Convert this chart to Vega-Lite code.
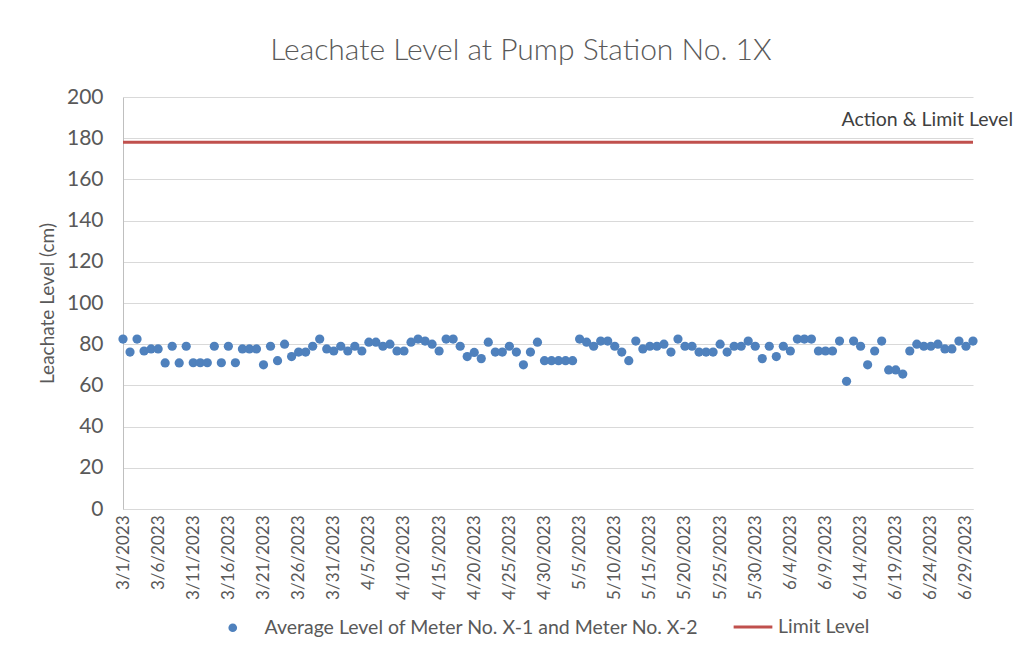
{
  "$schema": "https://vega.github.io/schema/vega-lite/v6.json",
  "autosize": {"type": "none"},
  "padding": {"left": 123, "top": 97, "right": 61, "bottom": 151},
  "width": 850,
  "height": 412,
  "background": "white",
  "config": {
    "font": "Lato",
    "view": {"stroke": null},
    "axis": {"labelColor": "#595959", "titleColor": "#595959", "labelFont": "Lato", "titleFont": "Lato", "titleFontWeight": "normal"}
  },
  "title": {"text": "Leachate Level at Pump Station No. 1X", "fontSize": 30, "font": "Lato", "fontWeight": 300, "color": "#595959", "anchor": "middle", "frame": "group", "offset": 20, "dx": -27},
  "datasets": {
    "levels": [
      {"date": "3/1/2023", "level": 82.5}, {"date": "3/2/2023", "level": 76.2}, {"date": "3/3/2023", "level": 82.5}, {"date": "3/4/2023", "level": 76.7},
      {"date": "3/5/2023", "level": 77.7}, {"date": "3/6/2023", "level": 77.7}, {"date": "3/7/2023", "level": 70.9}, {"date": "3/8/2023", "level": 79},
      {"date": "3/9/2023", "level": 70.9}, {"date": "3/10/2023", "level": 79}, {"date": "3/11/2023", "level": 71}, {"date": "3/12/2023", "level": 71},
      {"date": "3/13/2023", "level": 71}, {"date": "3/14/2023", "level": 79}, {"date": "3/15/2023", "level": 71}, {"date": "3/16/2023", "level": 79},
      {"date": "3/17/2023", "level": 71}, {"date": "3/18/2023", "level": 77.7}, {"date": "3/19/2023", "level": 77.7}, {"date": "3/20/2023", "level": 77.7},
      {"date": "3/21/2023", "level": 70}, {"date": "3/22/2023", "level": 79}, {"date": "3/23/2023", "level": 72}, {"date": "3/24/2023", "level": 80},
      {"date": "3/25/2023", "level": 74}, {"date": "3/26/2023", "level": 76.2}, {"date": "3/27/2023", "level": 76.2}, {"date": "3/28/2023", "level": 79},
      {"date": "3/29/2023", "level": 82.5}, {"date": "3/30/2023", "level": 77.7}, {"date": "3/31/2023", "level": 76.7},
      {"date": "4/1/2023", "level": 79}, {"date": "4/2/2023", "level": 76.7}, {"date": "4/3/2023", "level": 79}, {"date": "4/4/2023", "level": 76.7},
      {"date": "4/5/2023", "level": 81}, {"date": "4/6/2023", "level": 81}, {"date": "4/7/2023", "level": 79}, {"date": "4/8/2023", "level": 80},
      {"date": "4/9/2023", "level": 76.7}, {"date": "4/10/2023", "level": 76.7}, {"date": "4/11/2023", "level": 81}, {"date": "4/12/2023", "level": 82.5},
      {"date": "4/13/2023", "level": 81.5}, {"date": "4/14/2023", "level": 80}, {"date": "4/15/2023", "level": 76.7}, {"date": "4/16/2023", "level": 82.5},
      {"date": "4/17/2023", "level": 82.5}, {"date": "4/18/2023", "level": 79}, {"date": "4/19/2023", "level": 74}, {"date": "4/20/2023", "level": 76},
      {"date": "4/21/2023", "level": 73}, {"date": "4/22/2023", "level": 81}, {"date": "4/23/2023", "level": 76.2}, {"date": "4/24/2023", "level": 76.2},
      {"date": "4/25/2023", "level": 79}, {"date": "4/26/2023", "level": 76.2}, {"date": "4/27/2023", "level": 70}, {"date": "4/28/2023", "level": 76.2},
      {"date": "4/29/2023", "level": 81}, {"date": "4/30/2023", "level": 72},
      {"date": "5/1/2023", "level": 72}, {"date": "5/2/2023", "level": 72}, {"date": "5/3/2023", "level": 72}, {"date": "5/4/2023", "level": 72},
      {"date": "5/5/2023", "level": 82.5}, {"date": "5/6/2023", "level": 81}, {"date": "5/7/2023", "level": 79}, {"date": "5/8/2023", "level": 81.5},
      {"date": "5/9/2023", "level": 81.5}, {"date": "5/10/2023", "level": 79}, {"date": "5/11/2023", "level": 76.2}, {"date": "5/12/2023", "level": 72},
      {"date": "5/13/2023", "level": 81.5}, {"date": "5/14/2023", "level": 77.7}, {"date": "5/15/2023", "level": 79}, {"date": "5/16/2023", "level": 79},
      {"date": "5/17/2023", "level": 80}, {"date": "5/18/2023", "level": 76.2}, {"date": "5/19/2023", "level": 82.5}, {"date": "5/20/2023", "level": 79},
      {"date": "5/21/2023", "level": 79}, {"date": "5/22/2023", "level": 76.2}, {"date": "5/23/2023", "level": 76.2}, {"date": "5/24/2023", "level": 76.2},
      {"date": "5/25/2023", "level": 80}, {"date": "5/26/2023", "level": 76.2}, {"date": "5/27/2023", "level": 79}, {"date": "5/28/2023", "level": 79},
      {"date": "5/29/2023", "level": 81.5}, {"date": "5/30/2023", "level": 79}, {"date": "5/31/2023", "level": 73},
      {"date": "6/1/2023", "level": 79}, {"date": "6/2/2023", "level": 74}, {"date": "6/3/2023", "level": 79}, {"date": "6/4/2023", "level": 76.7},
      {"date": "6/5/2023", "level": 82.5}, {"date": "6/6/2023", "level": 82.5}, {"date": "6/7/2023", "level": 82.5}, {"date": "6/8/2023", "level": 76.7},
      {"date": "6/9/2023", "level": 76.7}, {"date": "6/10/2023", "level": 76.7}, {"date": "6/11/2023", "level": 81.5}, {"date": "6/12/2023", "level": 62},
      {"date": "6/13/2023", "level": 81.5}, {"date": "6/14/2023", "level": 79}, {"date": "6/15/2023", "level": 70}, {"date": "6/16/2023", "level": 76.7},
      {"date": "6/17/2023", "level": 81.5}, {"date": "6/18/2023", "level": 67.5}, {"date": "6/19/2023", "level": 67.5}, {"date": "6/20/2023", "level": 65.5},
      {"date": "6/21/2023", "level": 76.7}, {"date": "6/22/2023", "level": 80}, {"date": "6/23/2023", "level": 79}, {"date": "6/24/2023", "level": 79},
      {"date": "6/25/2023", "level": 80}, {"date": "6/26/2023", "level": 77.7}, {"date": "6/27/2023", "level": 77.7}, {"date": "6/28/2023", "level": 81.5},
      {"date": "6/29/2023", "level": 79}, {"date": "6/30/2023", "level": 81.5}
    ],
    "limit": [
      {"date": "6/30/2023", "limit": 178, "label": "Action & Limit Level", "series": "Limit Level"}
    ]
  },
  "layer": [
    {
      "data": {"name": "levels"},
      "mark": {"type": "point", "filled": true, "size": 85, "opacity": 1},
      "encoding": {
        "x": {
          "field": "date", "type": "ordinal", "sort": null,
          "scale": {"type": "point", "padding": 0},
          "axis": {
            "title": null,
            "values": ["3/1/2023","3/6/2023","3/11/2023","3/16/2023","3/21/2023","3/26/2023","3/31/2023","4/5/2023","4/10/2023","4/15/2023","4/20/2023","4/25/2023","4/30/2023","5/5/2023","5/10/2023","5/15/2023","5/20/2023","5/25/2023","5/30/2023","6/4/2023","6/9/2023","6/14/2023","6/19/2023","6/24/2023","6/29/2023"],
            "labelAngle": -90, "labelFontSize": 17, "labelPadding": 6,
            "ticks": false, "grid": false, "domain": true, "domainColor": "#D9D9D9", "labelOverlap": false
          }
        },
        "y": {
          "field": "level", "type": "quantitative",
          "scale": {"domain": [0, 200], "nice": false},
          "axis": {
            "title": "Leachate Level (cm)", "titleFontSize": 19, "titlePadding": 9,
            "values": [0,20,40,60,80,100,120,140,160,180,200],
            "labelFontSize": 21, "labelPadding": 20, "ticks": false,
            "grid": true, "gridColor": "#D9D9D9", "domain": true, "domainColor": "#BFBFBF"
          }
        },
        "fill": {
          "datum": "Average Level of Meter No. X-1 and Meter No. X-2",
          "scale": {"range": ["#4F81BD"]},
          "legend": {"title": null, "orient": "none", "legendX": 100, "legendY": 521, "labelFontSize": 19.5, "labelLimit": 0, "labelColor": "#595959", "labelFont": "Lato", "symbolType": "circle", "symbolSize": 75, "labelOffset": 22}
        }
      }
    },
    {
      "data": {"name": "limit"},
      "mark": {"type": "rule", "strokeWidth": 3},
      "encoding": {
        "y": {"field": "limit", "type": "quantitative"},
        "stroke": {
          "field": "series", "type": "nominal",
          "scale": {"range": ["#C0504D"]},
          "legend": {"title": null, "orient": "none", "legendX": 609, "legendY": 509, "labelFontSize": 19.5, "labelLimit": 0, "labelColor": "#595959", "labelFont": "Lato", "symbolType": "stroke", "symbolSize": 1500, "symbolStrokeWidth": 3, "labelOffset": 4}
        }
      }
    },
    {
      "data": {"name": "limit"},
      "mark": {"type": "text", "align": "right", "baseline": "bottom", "dx": 40, "dy": -12, "fontSize": 19.5, "font": "Lato", "color": "#404040"},
      "encoding": {
        "x": {"field": "date", "type": "ordinal", "sort": null},
        "y": {"field": "limit", "type": "quantitative"},
        "text": {"field": "label"}
      }
    }
  ]
}
